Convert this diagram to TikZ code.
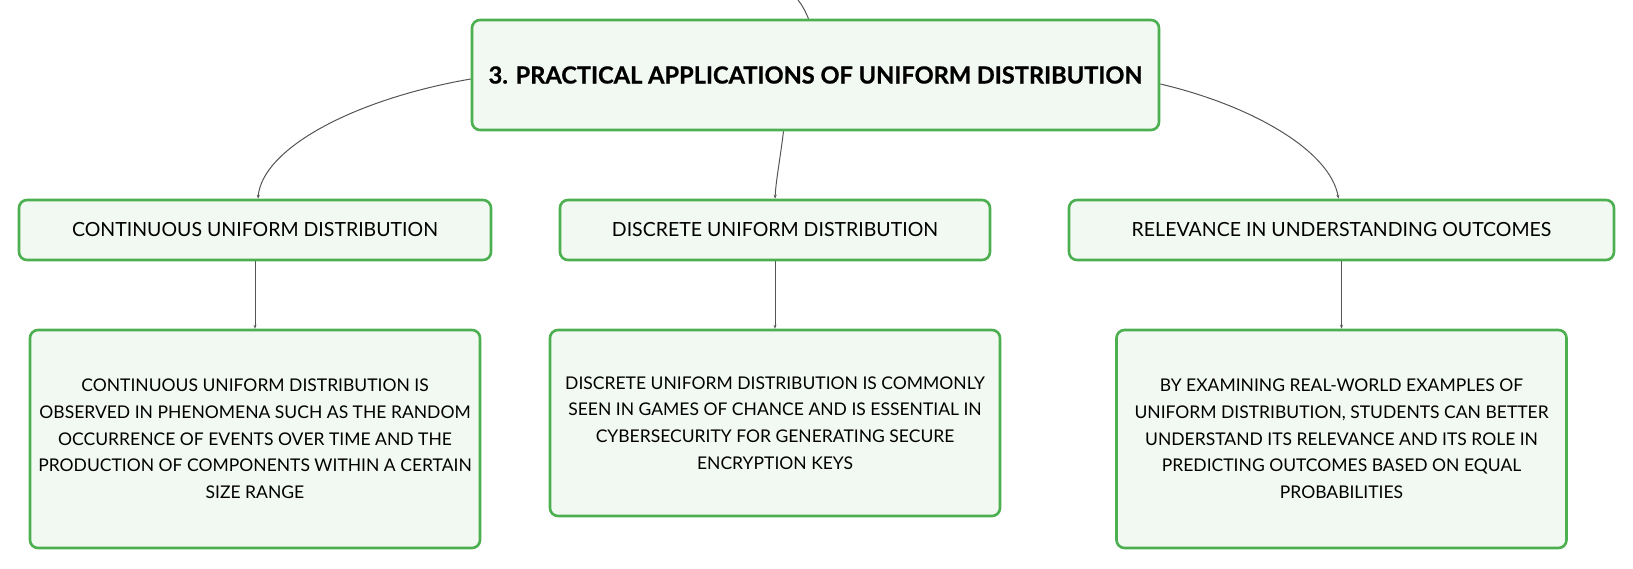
\documentclass[tikz,border=0pt]{standalone}
\usepackage{fontspec}
\setmainfont{Lato}
\usetikzlibrary{arrows.meta}
\definecolor{boxgreen}{HTML}{4CAF50}
\definecolor{boxfill}{HTML}{F2F8F2}
\definecolor{linegray}{HTML}{555555}
\tikzset{
  box/.style={draw=boxgreen, line width=2.6pt, fill=boxfill, rounded corners=8pt, align=center, inner sep=0pt},
  titlebox/.style={box, font=\fontsize{23.6}{28}\selectfont\bfseries\addfontfeatures{FakeBold=0.8}},
  headbox/.style={box, font=\fontsize{19.5}{24}\selectfont},
  textbox/.style={box, font=\fontsize{17.5}{26.7}\selectfont},
  conn/.style={draw=linegray, line width=1pt, -{Stealth[length=4pt,width=3pt]}}
}
\begin{document}
\begin{tikzpicture}[x=1pt,y=1pt]
\useasboundingbox (0,0) rectangle (1633,-569);
\node[titlebox, minimum width=687pt, minimum height=110pt] (main) at (815.5,-75) {3. PRACTICAL APPLICATIONS OF UNIFORM DISTRIBUTION};
\node[headbox, minimum width=472pt, minimum height=60pt] (a2) at (255,-230) {CONTINUOUS UNIFORM DISTRIBUTION};
\node[headbox, minimum width=430pt, minimum height=60pt] (b2) at (775,-230) {DISCRETE UNIFORM DISTRIBUTION};
\node[headbox, minimum width=545pt, minimum height=60pt] (c2) at (1341.5,-230) {RELEVANCE IN UNDERSTANDING OUTCOMES};
\node[textbox, minimum width=450pt, minimum height=218pt] (a3) at (255,-439) {CONTINUOUS UNIFORM DISTRIBUTION IS\\OBSERVED IN PHENOMENA SUCH AS THE RANDOM\\OCCURRENCE OF EVENTS OVER TIME AND THE\\PRODUCTION OF COMPONENTS WITHIN A CERTAIN\\SIZE RANGE};
\node[textbox, minimum width=450pt, minimum height=186pt] (b3) at (775,-423) {DISCRETE UNIFORM DISTRIBUTION IS COMMONLY\\SEEN IN GAMES OF CHANCE AND IS ESSENTIAL IN\\CYBERSECURITY FOR GENERATING SECURE\\ENCRYPTION KEYS};
\node[textbox, minimum width=450pt, minimum height=218pt] (c3) at (1341.5,-439) {BY EXAMINING REAL-WORLD EXAMPLES OF\\UNIFORM DISTRIBUTION, STUDENTS CAN BETTER\\UNDERSTAND ITS RELEVANCE AND ITS ROLE IN\\PREDICTING OUTCOMES BASED ON EQUAL\\PROBABILITIES};
\coordinate (top) at (798,0);
\draw[draw=linegray, line width=1pt] (top) .. controls (803,-6) and (806,-13) .. ([xshift=-7pt]main.north);
\draw[conn] ([yshift=-4pt]main.west) .. controls (350,-100) and (262,-150) .. ([xshift=3pt]a2.north);
\draw[conn] ([xshift=-32pt]main.south) .. controls (780,-160) and (776,-180) .. (b2.north);
\draw[conn] ([yshift=-9pt]main.east) .. controls (1250,-105) and (1330,-150) .. ([xshift=-3pt]c2.north);
\draw[conn] (a2.south) -- (a3.north);
\draw[conn] (b2.south) -- (b3.north);
\draw[conn] (c2.south) -- (c3.north);
\end{tikzpicture}
\end{document}
